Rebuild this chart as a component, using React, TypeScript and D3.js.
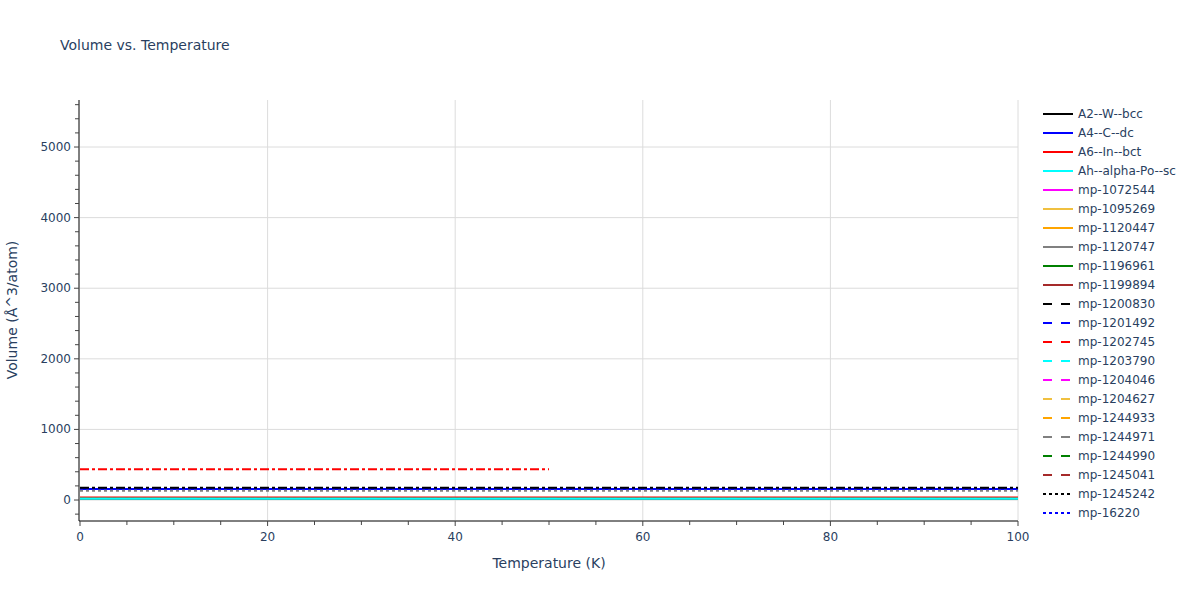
import React from "react";
import * as d3 from "d3";

// Volume vs. temperature for a set of structures (flat curves), Plotly-like look.

const temperatures = [0, 10, 20, 30, 40, 50, 60, 70, 80, 90, 100];
const tempsHalf = [0, 10, 20, 30, 40, 50];

const names = [
  "A2--W--bcc", "A4--C--dc", "A6--In--bct", "Ah--alpha-Po--sc",
  "mp-1072544", "mp-1095269", "mp-1120447", "mp-1120747", "mp-1196961", "mp-1199894",
  "mp-1200830", "mp-1201492", "mp-1202745", "mp-1203790", "mp-1204046",
  "mp-1204627", "mp-1244933", "mp-1244971", "mp-1244990", "mp-1245041",
  "mp-1245242", "mp-16220",
  // further traces whose legend entries fall below the visible legend area
  "trace 23", "trace 24", "trace 25", "trace 26", "trace 27", "trace 28",
  "trace 29", "trace 30", "trace 31", "trace 32",
];

// volume (Å^3/atom), roughly constant with temperature
const volumes = [
  18, 156, 35, 18,
  18, 18, 18, 18, 18, 18,
  18, 156, 18, 18, 18,
  18, 18, 18, 18, 18,
  18, 156,
  18, 18, 18, 18, 18, 132, 18, 18,
  174, 435,
];

const palette = ["#000000", "#0000ff", "#ff0000", "#00ffff", "#ff00ff", "#f0c040", "#ffa500", "#808080", "#008000", "#a52a2a"];
// colour index and dash style of each trace
const colorIndex = [0, 1, 2, 3, 4, 5, 6, 7, 8, 9, 0, 1, 2, 3, 4, 5, 6, 7, 8, 9, 0, 1, 2, 3, 4, 5, 6, 7, 8, 9, 0, 2];
const dashKind = [
  "solid", "solid", "solid", "solid", "solid", "solid", "solid", "solid", "solid", "solid",
  "dash", "dash", "dash", "dash", "dash", "dash", "dash", "dash", "dash", "dash",
  "dot", "dot", "dot", "dot", "dot", "dot", "dot", "dot", "dot", "dot",
  "dashdot", "dashdot",
];
const dashArray: Record<string, string | undefined> = { solid: undefined, dash: "9,9", dot: "3,3", dashdot: "9,3,3,3" };

const W = 1200;
const H = 600;
const plot = { left: 80, right: 1018, top: 100, bottom: 520 };
const font = "'DejaVu Sans', Verdana, sans-serif";
const textColor = "#2a3f5f";

export default function App() {
  const x = d3.scaleLinear().domain([0, 100]).range([plot.left, plot.right]);
  const y = d3.scaleLinear().domain([-283, 5666]).range([plot.bottom, plot.top]);

  const series = names.map((name, i) => {
    const ts = i === names.length - 1 ? tempsHalf : temperatures;
    return {
      name,
      color: palette[colorIndex[i]],
      dash: dashArray[dashKind[i]],
      points: ts.map((t) => [t, volumes[i]] as [number, number]),
    };
  });
  // alpha-Po (cyan) sits on top of the cluster of small volumes
  const drawOrder = [...series.filter((s) => s.name !== "Ah--alpha-Po--sc"), series[3]];

  const line = d3
    .line<[number, number]>()
    .x((d) => x(d[0]))
    .y((d) => y(d[1]));

  const xMajor = d3.range(0, 101, 20);
  const xMinor = d3.range(0, 101, 5).filter((v) => v % 20 !== 0);
  const yMajor = d3.range(0, 5001, 1000);
  const yMinor = d3.range(-200, 5601, 200).filter((v) => v % 1000 !== 0);

  const legendY0 = 114;
  const legendStep = 19;

  return (
    <svg width={W} height={H} style={{ position: "absolute", left: 0, top: 0, background: "#fff" }} fontFamily={font}>
      <text x={60} y={50} fontSize={14} fill={textColor}>Volume vs. Temperature</text>

      {/* grid */}
      {xMajor.filter((v) => v > 0).map((v) => (
        <line key={"gx" + v} x1={x(v)} x2={x(v)} y1={plot.top} y2={plot.bottom} stroke="#dcdcdc" />
      ))}
      {yMajor.map((v) => (
        <line key={"gy" + v} x1={plot.left} x2={plot.right} y1={y(v)} y2={y(v)} stroke="#dcdcdc" />
      ))}

      {/* traces */}
      <defs>
        <clipPath id="clip">
          <rect x={plot.left} y={plot.top} width={plot.right - plot.left} height={plot.bottom - plot.top} />
        </clipPath>
      </defs>
      <g clipPath="url(#clip)">
        {drawOrder.map((s) => (
          <path key={s.name} d={line(s.points) || ""} fill="none" stroke={s.color} strokeWidth={2} strokeDasharray={s.dash} />
        ))}
      </g>

      {/* axes */}
      <line x1={plot.left - 1} x2={plot.left - 1} y1={plot.top} y2={plot.bottom + 1} stroke="#000" />
      <line x1={plot.left - 1} x2={plot.right} y1={plot.bottom + 1} y2={plot.bottom + 1} stroke="#000" />
      {yMajor.map((v) => (
        <g key={"yt" + v}>
          <line x1={plot.left - 6} x2={plot.left - 1} y1={y(v)} y2={y(v)} stroke="#444" />
          <text x={plot.left - 9} y={y(v) + 4} fontSize={12} fill={textColor} textAnchor="end">{v}</text>
        </g>
      ))}
      {yMinor.map((v) => (
        <line key={"ym" + v} x1={plot.left - 5} x2={plot.left - 1} y1={y(v)} y2={y(v)} stroke="#444" />
      ))}
      {xMajor.map((v) => (
        <g key={"xt" + v}>
          <line x1={x(v)} x2={x(v)} y1={plot.bottom + 1} y2={plot.bottom + 6} stroke="#444" />
          <text x={x(v)} y={541} fontSize={12} fill={textColor} textAnchor="middle">{v}</text>
        </g>
      ))}
      {xMinor.map((v) => (
        <line key={"xm" + v} x1={x(v)} x2={x(v)} y1={plot.bottom + 1} y2={plot.bottom + 5} stroke="#444" />
      ))}

      <text x={(plot.left + plot.right) / 2} y={568} fontSize={14} fill={textColor} textAnchor="middle">Temperature (K)</text>
      <text transform={`translate(17,${(plot.top + plot.bottom) / 2}) rotate(-90)`} fontSize={14} fill={textColor} textAnchor="middle">Volume (Å^3/atom)</text>

      {/* legend */}
      {series.map((s, i) => {
        const ly = legendY0 + i * legendStep;
        if (ly > 520) return null;
        return (
          <g key={"lg" + s.name}>
            <line x1={1043} x2={1073} y1={ly} y2={ly} stroke={s.color} strokeWidth={2} strokeDasharray={s.dash} />
            <text x={1078} y={ly + 4} fontSize={12} fill={textColor}>{s.name}</text>
          </g>
        );
      })}
    </svg>
  );
}
